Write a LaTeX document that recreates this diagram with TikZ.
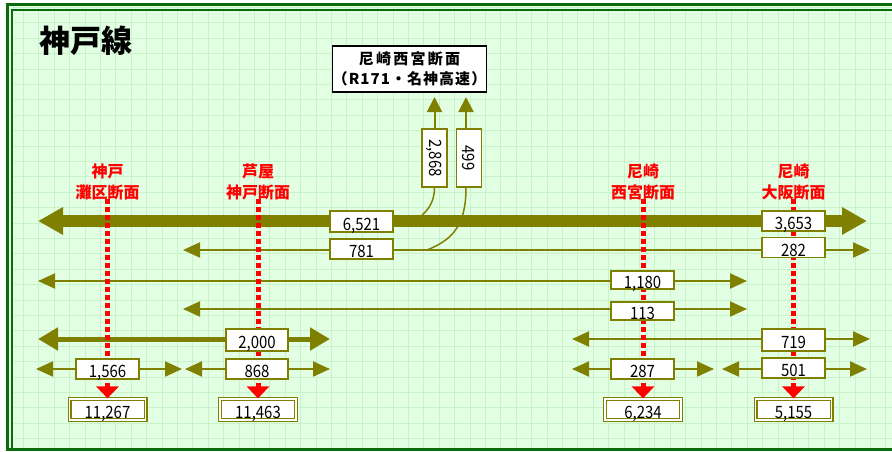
\documentclass[tikz,border=0pt]{standalone}
\usepackage{fontspec}
\usetikzlibrary{arrows.meta}
\newfontfamily\jpfont{Noto Sans CJK JP}
\newfontfamily\numfont{Noto Sans CJK JP}[FakeStretch=0.88]
\newfontfamily\jpspaced{Noto Sans CJK JP}[LetterSpace=15]
\newfontfamily\jpspacedb{Noto Sans CJK JP}[LetterSpace=7]
\definecolor{olv}{HTML}{808000}
\definecolor{bggreen}{HTML}{E3FFE3}
\definecolor{gridgreen}{HTML}{C8F2C8}
\definecolor{framegreen}{HTML}{0B6B0B}
\definecolor{secred}{HTML}{FF0000}
\begin{document}
\begin{tikzpicture}[x=1pt,y=-1pt,
  lbl/.style={draw=olv, line width=1.5pt, fill=white, minimum width=63pt, minimum height=20pt,
    inner sep=0pt, text height=17pt, text depth=0pt, font=\numfont\fontsize{17}{17}\selectfont},
  vlbl/.style={draw=olv, line width=1.5pt, fill=white, minimum width=58pt, minimum height=25pt,
    inner sep=0pt, rotate=-90, font=\numfont\fontsize{17}{17}\selectfont},
  totbox/.style={draw=olv, double=white, double distance=1.6pt, line width=1.2pt, fill=white,
    minimum width=76pt, minimum height=21pt, inner sep=0pt, text height=17.5pt, text depth=0pt,
    font=\numfont\fontsize{17}{17}\selectfont},
  seclbl/.style={text=secred, align=center, inner sep=0pt,
    font=\jpfont\bfseries\fontsize{16}{20.5}\selectfont},
  secline/.style={draw=secred, line width=5pt, dash pattern=on 5pt off 3pt,
    -{Triangle[length=12pt,width=22pt]}},
  thickone/.style={draw=olv, line width=12pt, -{Triangle[length=25pt,width=26pt]}},
  midboth/.style={draw=olv, line width=5pt,
    {Triangle[length=20pt,width=22pt]}-{Triangle[length=20pt,width=22pt]}},
  thinboth/.style={draw=olv, line width=2pt,
    {Triangle[length=17pt,width=15pt]}-{Triangle[length=17pt,width=15pt]}},
  thinup/.style={draw=olv, line width=2pt, -{Triangle[length=15pt,width=15pt]}},
  feeder/.style={draw=olv, line width=1.5pt}
]
\useasboundingbox (0,0) rectangle (892,451);
\fill[white] (0,0) rectangle (892,451);
\fill[bggreen] (6,3) rectangle (892,451);
\foreach \i in {0,...,57} \draw[gridgreen, line width=0.8pt] ({7.9+15.4*\i},10) -- ({7.9+15.4*\i},448);
\foreach \j in {0,...,28} \draw[gridgreen, line width=0.8pt] (12,{7.3+15.4*\j}) -- (892,{7.3+15.4*\j});
\draw[framegreen, line width=2.6pt] (7.5,4.7) rectangle (900,449.7);
\draw[framegreen, line width=2.4pt] (12.2,9.7) rectangle (900,449.7);

% title
\node[font=\jpfont\bfseries\fontsize{31}{31}\selectfont, inner sep=0pt] (title) at (85.5,41) {神戸線};

% destination box
\node[draw=black, line width=1.5pt, fill=white, minimum width=151pt, minimum height=46pt,
  align=center, inner sep=0pt, font=\bfseries\fontsize{15}{20.5}\selectfont] (dest) at (409.5,69)
  {{\jpspaced\bfseries 尼崎西宮断面}\\{\jpspacedb\bfseries （R171・名神高速）}};

% totals
\node[totbox] (t1) at (107.5,409.5) {11,267};
\node[totbox] (t2) at (258,409.5) {11,463};
\node[totbox] (t3) at (643,409.5) {6,234};
\node[totbox] (t4) at (793.5,409.5) {5,155};

% coordinates
\coordinate (up1) at (434.5,97);
\coordinate (up2) at (466,97);
\coordinate (j1) at (422,215);
\coordinate (j2) at (427,250);
\coordinate (m1L) at (38,221);
\coordinate (m1S) at (415,221);
\coordinate (m1R) at (867,221);
\coordinate (r2L) at (183,250);
\coordinate (r2R) at (870,250);
\coordinate (r3L) at (38,281);
\coordinate (r3R) at (747,281);
\coordinate (r4L) at (183,309);
\coordinate (r4R) at (747,309);
\coordinate (r5aL) at (38,339);
\coordinate (r5aR) at (330,339);
\coordinate (r5bL) at (572,339);
\coordinate (r5bR) at (870,339);
\coordinate (r6aL) at (36,369);
\coordinate (r6aR) at (182,369);
\coordinate (r6bL) at (185,369);
\coordinate (r6bR) at (330,369);
\coordinate (r6cL) at (572,369);
\coordinate (r6cR) at (714,369);
\coordinate (r6dL) at (722,369);
\coordinate (r6dR) at (867,369);
\coordinate (s1) at (107.5,199);
\coordinate (s2) at (258,199);
\coordinate (s3) at (643,199);
\coordinate (s4) at (793.5,199);

% vertical branch boxes
\node[vlbl] (v1) at (434.5,158) {2,868};
\node[vlbl] (v2) at (469,158) {499};
\draw[thinup] (v1.west) -- (up1);
\draw[thinup] (v2.west -| up2) -- (up2);
\draw[feeder] (v1.east) .. controls +(0,14) and +(6,-5) .. (j1);
\draw[feeder] (v2.east -| up2) .. controls (466,226) and (452,240) .. (j2);

% flow arrows
\draw[thickone] (m1S) -- (m1L);
\draw[thickone] (m1S) -- (m1R);
\draw[thinboth] (r2L) -- (r2R);
\draw[thinboth] (r3L) -- (r3R);
\draw[thinboth] (r4L) -- (r4R);
\draw[midboth] (r5aL) -- (r5aR);
\draw[thinboth] (r5bL) -- (r5bR);
\draw[thinboth] (r6aL) -- (r6aR);
\draw[thinboth] (r6bL) -- (r6bR);
\draw[thinboth] (r6cL) -- (r6cR);
\draw[thinboth] (r6dL) -- (r6dR);

% section lines
\draw[secline] (s1) -- (t1.north);
\draw[secline] (s2) -- (t2.north);
\draw[secline] (s3) -- (t3.north);
\draw[secline] (s4) -- (t4.north);

% section labels
\node[seclbl] (n1) at (107.5,182) {神戸\\灘区断面};
\node[seclbl] (n2) at (258,182) {芦屋\\神戸断面};
\node[seclbl] (n3) at (643,182) {尼崎\\西宮断面};
\node[seclbl] (n4) at (793.5,182) {尼崎\\大阪断面};

% value boxes
\node[lbl, minimum height=21pt] (b6521) at (361.5,221.5) {6,521};
\node[lbl] (b781) at (361.5,249) {781};
\node[lbl] (b3653) at (793.5,221) {3,653};
\node[lbl] (b282) at (793.5,247.5) {282};
\node[lbl, minimum height=18pt] (b1180) at (642.5,280) {1,180};
\node[lbl, minimum height=18pt] (b113) at (642.5,311) {113};
\node[lbl, minimum height=22pt, minimum width=62pt] (b2000) at (257,340) {2,000};
\node[lbl, minimum height=22pt] (b719) at (793.5,340) {719};
\node[lbl] (b1566) at (107.5,369) {1,566};
\node[lbl, minimum width=62pt] (b868) at (257,369) {868};
\node[lbl] (b287) at (642.5,369) {287};
\node[lbl] (b501) at (793.5,368) {501};
\end{tikzpicture}
\end{document}
